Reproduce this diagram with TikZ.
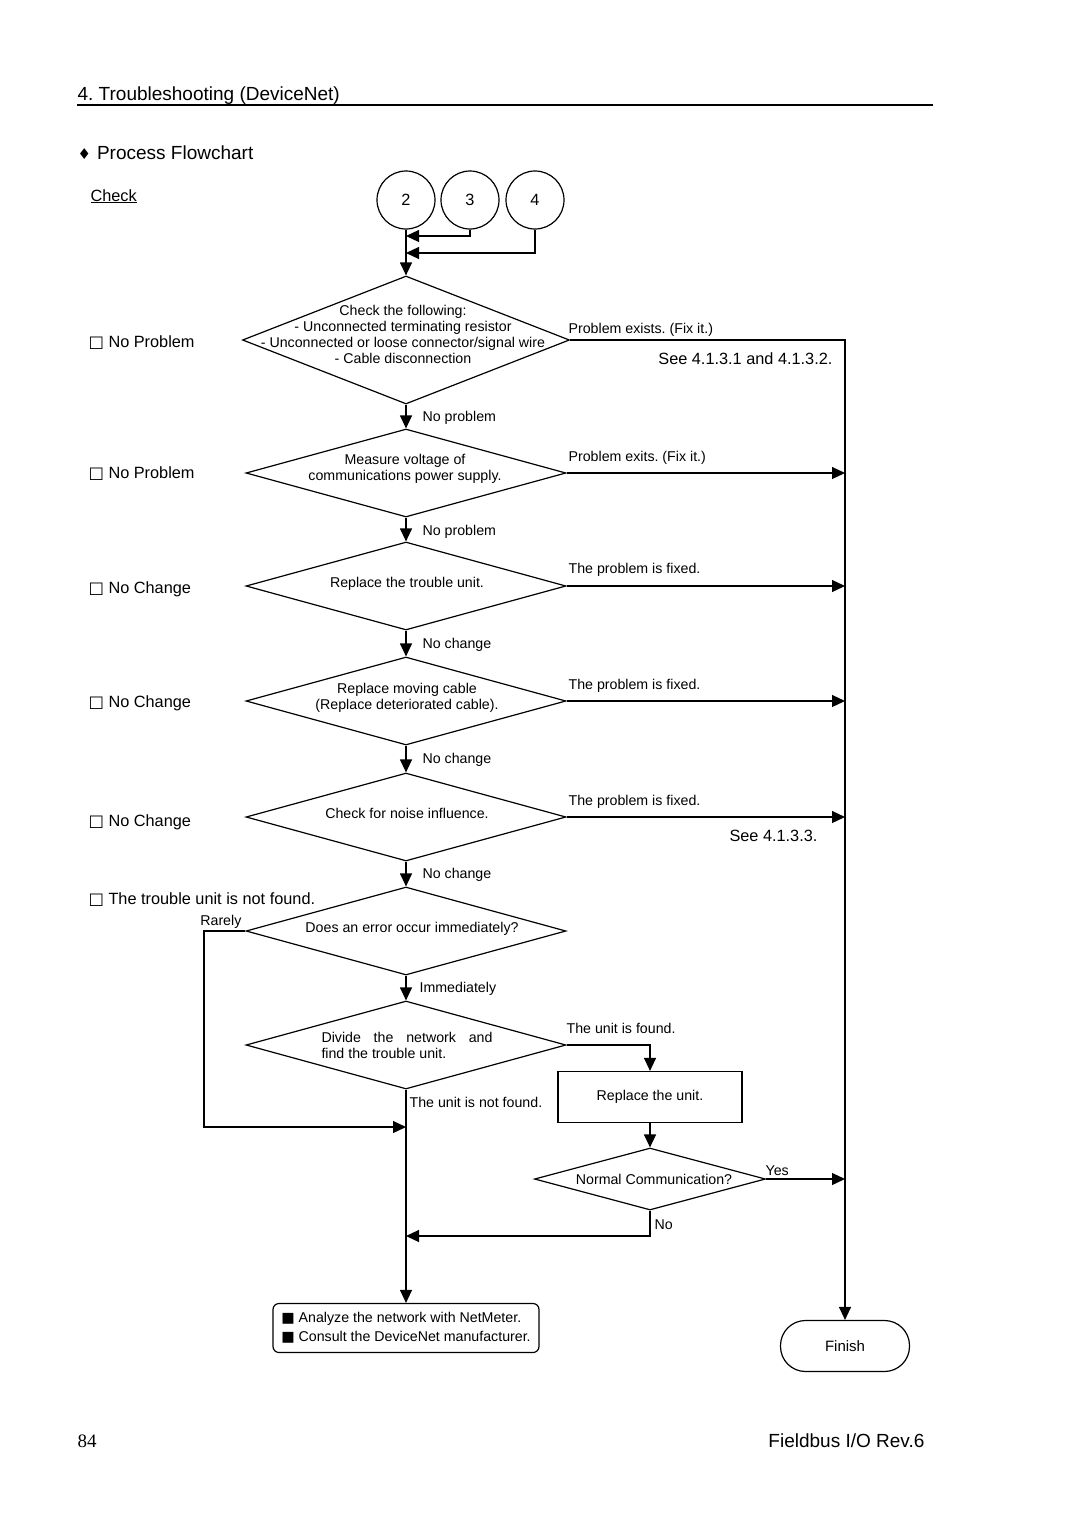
\documentclass[tikz,border=0pt]{standalone}
\usepackage{fontspec}
\setmainfont{Liberation Sans}
\newfontfamily\symfont{DejaVu Sans}
\newfontfamily\serfont{Liberation Serif}
\usetikzlibrary{shapes.geometric}
\usetikzlibrary{arrows.meta}
\frenchspacing

\begin{document}
\begin{tikzpicture}[x=1pt, y=-1pt, line width=1.2pt,
    dec/.style={diamond,draw,inner sep=0pt,minimum width=320pt,minimum height=88pt},
    arr/.style={-{Triangle[length=13pt,width=12pt]}},
    small/.style={font=\fontsize{14.2}{16}\selectfont},
    big/.style={font=\fontsize{16.3}{19}\selectfont},
    lbl/.style={small,inner sep=0pt,anchor=base west},
    side/.style={big,inner sep=0pt,anchor=base west}]

    \useasboundingbox (0,0) rectangle (1080,1528);

    % page header
    \node[font=\fontsize{19}{22}\selectfont,inner sep=0pt,anchor=base west] (title) at (77,100) {4. Troubleshooting (DeviceNet)};
    \draw[line width=1.6pt] (77,105) -- (933,105);
    \node[font=\fontsize{19}{22}\selectfont,inner sep=0pt,anchor=base west] (sub) at (77,159) {{\symfont\fontsize{15}{17}\selectfont ♦}\hspace{6pt}Process Flowchart};
    \node[side] (chk) at (90,201) {\underline{Check}};

    % left column
    \node[side] (s1) at (88,347) {{\symfont □} No Problem};
    \node[side] (s2) at (88,478) {{\symfont □} No Problem};
    \node[side] (s3) at (88,593) {{\symfont □} No Change};
    \node[side] (s4) at (88,707) {{\symfont □} No Change};
    \node[side] (s5) at (88,826) {{\symfont □} No Change};
    \node[side] (s6) at (88,904) {{\symfont □} The trouble unit is not found.};

    % start circles
    \node[circle,draw,minimum size=58pt,inner sep=0pt,big] (c2) at (406,200) {2};
    \node[circle,draw,minimum size=58pt,inner sep=0pt,big] (c3) at (470,200) {3};
    \node[circle,draw,minimum size=58pt,inner sep=0pt,big] (c4) at (535,200) {4};
    \coordinate (j3) at (406,236);
    \coordinate (j4) at (406,253);

    % decisions
    \node[dec,minimum width=327pt,minimum height=128pt] (d1) at (406,340) {};
    \node[dec] (d2) at (406,473) {};
    \node[dec] (d3) at (406,586) {};
    \node[dec] (d4) at (406,701) {};
    \node[dec] (d5) at (406,817) {};
    \node[dec] (d6) at (406,931) {};
    \node[dec] (d7) at (406,1045) {};
    \node[dec,minimum width=231pt,minimum height=62pt] (d8) at (650,1179) {};

    \node[small,align=center] at (403,334) {Check the following:\\- Unconnected terminating resistor\\- Unconnected or loose connector/signal wire\\- Cable disconnection};
    \node[small,align=center] at (405,469) {Measure voltage of\\communications power supply.};
    \node[small] at (407,584) {Replace the trouble unit.};
    \node[small,align=center] at (407,698) {Replace moving cable\\(Replace deteriorated cable).};
    \node[small] at (407,813) {Check for noise influence.};
    \node[small] at (412,929) {Does an error occur immediately?};
    \node[small,align=left] at (407,1045) {\makebox[171pt][s]{Divide the network and}\\find the trouble unit.};
    \node[small] at (654,1179) {Normal Communication?};

    % boxes
    \node[draw,small,minimum width=184pt,minimum height=51pt] (rep) at (650,1097) {Replace the unit.};
    \node[draw,rounded corners=6pt,align=left,minimum width=266pt,minimum height=49pt,font=\fontsize{14.2}{19}\selectfont] (ana) at (406,1328) {{\symfont ■} Analyze the network with NetMeter.\\{\symfont ■} Consult the DeviceNet manufacturer.};
    \node[draw,rounded corners=25pt,font=\fontsize{15}{18}\selectfont,minimum width=129pt,minimum height=51pt] (fin) at (845,1346) {Finish};

    \coordinate (rare) at (204,1127);
    \coordinate (j7) at (406,1127);
    \coordinate (j8) at (406,1236);

    % connectors
    \draw[arr] (c3.south) |- (j3);
    \draw[arr] (c4.south) |- (j4);
    \draw (c2) edge[arr] (d1);
    \draw (d1) edge[arr] (d2);
    \draw (d2) edge[arr] (d3);
    \draw (d3) edge[arr] (d4);
    \draw (d4) edge[arr] (d5);
    \draw (d5) edge[arr] (d6);
    \draw (d6) edge[arr] (d7);
    \draw (d7) edge[arr] (ana);
    \draw (rep) edge[arr] (d8);
    \draw[arr] (d1.east) -| (fin.north);
    \draw[arr] (d2.east) -- (d2.east -| fin.north);
    \draw[arr] (d3.east) -- (d3.east -| fin.north);
    \draw[arr] (d4.east) -- (d4.east -| fin.north);
    \draw[arr] (d5.east) -- (d5.east -| fin.north);
    \draw[arr] (d8.east) -- (d8.east -| fin.north);
    \draw[arr] (d6.west) -| (rare) -- (j7);
    \draw[arr] (d7.east) -| (rep.north);
    \draw[arr] (d8.south) |- (j8);

    % connector labels
    \node[lbl] at (568,333) {Problem exists. (Fix it.)};
    \node[big,inner sep=0pt,anchor=base east] at (833,364) {See 4.1.3.1 and 4.1.3.2.};
    \node[lbl] at (422,421) {No problem};
    \node[lbl] at (568,461) {Problem exits. (Fix it.)};
    \node[lbl] at (422,535) {No problem};
    \node[lbl] at (568,573) {The problem is fixed.};
    \node[lbl] at (422,648) {No change};
    \node[lbl] at (568,689) {The problem is fixed.};
    \node[lbl] at (422,763) {No change};
    \node[lbl] at (568,805) {The problem is fixed.};
    \node[big,inner sep=0pt,anchor=base east] at (818,841) {See 4.1.3.3.};
    \node[lbl] at (422,878) {No change};
    \node[small,inner sep=0pt,anchor=base east] at (242,925) {Rarely};
    \node[lbl] at (419,992) {Immediately};
    \node[lbl] at (566,1033) {The unit is found.};
    \node[lbl] at (409,1107) {The unit is not found.};
    \node[lbl] at (765,1175) {Yes};
    \node[lbl] at (654,1229) {No};

    % footer
    \node[font=\serfont\fontsize{19}{22}\selectfont,inner sep=0pt,anchor=base west] (pg) at (77,1447) {84};
    \node[font=\fontsize{19}{22}\selectfont,inner sep=0pt,anchor=base east] (rev) at (925,1447) {Fieldbus I/O Rev.6};
\end{tikzpicture}
\end{document}
